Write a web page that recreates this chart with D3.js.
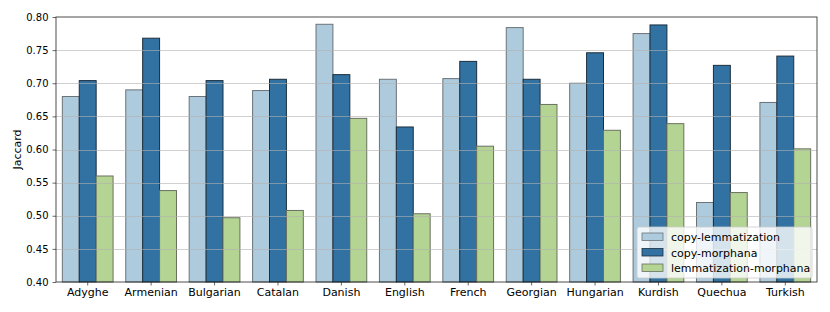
<!DOCTYPE html>
<html>
<head>
<meta charset="utf-8">
<script src="https://cdn.jsdelivr.net/npm/d3@7"></script>
<style>
  body { margin: 0; background: #fff; }
  text { font-family: "DejaVu Sans", sans-serif; fill: #000; }
</style>
</head>
<body>
<div id="chart"></div>
<script>
/* ---------- Dados ---------- */
const languages = ['Adyghe', 'Armenian', 'Bulgarian', 'Catalan', 'Danish', 'English',
                   'French', 'Georgian', 'Hungarian', 'Kurdish', 'Quechua', 'Turkish'];
const seriesNames = ['copy-lemmatization', 'copy-morphana', 'lemmatization-morphana'];
const copyLemma   = [0.680, 0.690, 0.680, 0.689, 0.789, 0.706, 0.707, 0.784, 0.700, 0.775, 0.520, 0.671];
const copyMorph   = [0.704, 0.768, 0.704, 0.706, 0.713, 0.634, 0.733, 0.706, 0.746, 0.788, 0.727, 0.741];
const lemmaMorph  = [0.560, 0.538, 0.497, 0.508, 0.647, 0.503, 0.605, 0.668, 0.629, 0.639, 0.535, 0.601];
const yTicks      = [0.40, 0.45, 0.50, 0.55, 0.60, 0.65, 0.70, 0.75, 0.80];
const colors      = ['#aecbdd', '#3172a2', '#b4d494'];
const edges       = ['#6a7378', '#1c2e3c', '#6a7060'];

const seriesVals = [copyLemma, copyMorph, lemmaMorph];

/* ---------- Layout ---------- */
const W = 830, H = 312;
const m = { l: 56, r: 13, t: 17, b: 30 };
const iw = W - m.l - m.r, ih = H - m.t - m.b;

const svg = d3.select('#chart').append('svg')
  .attr('width', W).attr('height', H);
const g = svg.append('g').attr('transform', `translate(${m.l},${m.t})`);

const x = d3.scaleBand().domain(languages).range([0, iw]).paddingInner(0.2).paddingOuter(0.1);
const xs = d3.scaleBand().domain(seriesNames).range([0, x.bandwidth()]);
const y = d3.scaleLinear().domain([0.4, 0.8]).range([ih, 0]);

/* ---------- Barras ---------- */
seriesNames.forEach((s, si) => {
  g.append('g').selectAll('rect')
    .data(languages.map((lang, i) => ({ lang, v: seriesVals[si][i] })))
    .enter().append('rect')
    .attr('x', d => x(d.lang) + xs(s))
    .attr('y', d => y(d.v))
    .attr('width', xs.bandwidth())
    .attr('height', d => ih - y(d.v))
    .attr('fill', colors[si])
    .attr('stroke', edges[si])
    .attr('stroke-width', 1);
});

/* ---------- Grade (por cima) ---------- */
g.append('g').selectAll('line')
  .data(yTicks.slice(1, -1)).enter().append('line')
  .attr('x1', 0).attr('x2', iw)
  .attr('y1', d => Math.round(y(d)) + 0.5).attr('y2', d => Math.round(y(d)) + 0.5)
  .attr('stroke', '#b0b0b0').attr('stroke-opacity', 0.6).attr('stroke-width', 1);

/* ---------- Eixos ---------- */
const yAxis = g.append('g')
  .call(d3.axisLeft(y).tickValues(yTicks).tickFormat(d3.format('.2f')).tickSize(3.5).tickPadding(4));
const xAxis = g.append('g').attr('transform', `translate(0,${ih})`)
  .call(d3.axisBottom(x).tickSize(3.5).tickPadding(3));
[yAxis, xAxis].forEach(a => {
  a.select('.domain').remove();
  a.selectAll('line').attr('stroke', '#444').attr('stroke-width', 0.8);
});
yAxis.selectAll('text').style('font-size', '10px');
xAxis.selectAll('text').style('font-size', '11px');

g.append('rect')
  .attr('x', 0).attr('y', 0).attr('width', iw).attr('height', ih)
  .attr('fill', 'none').attr('stroke', '#222').attr('stroke-width', 0.8);

svg.append('text')
  .attr('transform', `translate(21,${m.t + ih / 2}) rotate(-90)`)
  .attr('text-anchor', 'middle')
  .style('font-size', '11px')
  .text('Jaccard');

/* ---------- Legenda ---------- */
const lg = g.append('g').attr('transform', `translate(${iw - 180},${ih - 55})`);
lg.append('rect')
  .attr('width', 175).attr('height', 51).attr('rx', 2)
  .attr('fill', '#fff').attr('fill-opacity', 0.8)
  .attr('stroke', '#ccc').attr('stroke-width', 0.8);
seriesNames.forEach((s, i) => {
  const row = lg.append('g').attr('transform', `translate(5,${4.5 + i * 15.5})`);
  row.append('rect')
    .attr('width', 21).attr('height', 7.5).attr('y', 1.5)
    .attr('fill', colors[i]).attr('stroke', edges[i]).attr('stroke-width', 0.8);
  row.append('text')
    .attr('x', 29).attr('y', 9.5)
    .style('font-size', '11px')
    .text(s);
});
</script>
</body>
</html>
